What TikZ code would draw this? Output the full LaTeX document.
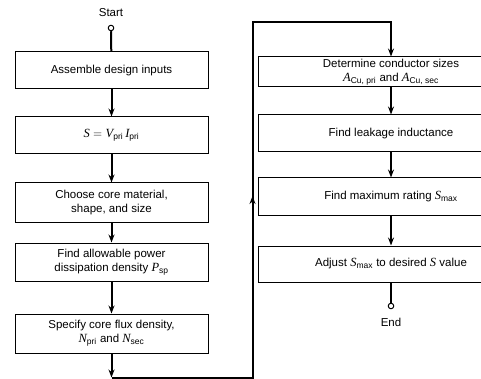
\documentclass[tikz,border=0pt]{standalone}
\usepackage{amsmath}
\usepackage{fontspec}
\setmainfont{Liberation Sans}
\newfontfamily\mifont{Liberation Serif}
\usetikzlibrary{arrows.meta}
\newcommand{\sbt}[1]{\text{\fontsize{8.5}{9}\selectfont #1}}
\newcommand{\mv}[1]{\text{\mifont\itshape\fontsize{12.5}{14}\selectfont #1}}
\begin{document}
\begin{tikzpicture}[x=1pt,y=-1pt,
  font=\fontsize{11.5}{14}\selectfont,
  box/.style={draw,line width=1pt,align=center,inner sep=0pt,minimum width=193pt},
  rbox/.style={draw,line width=1pt,align=center,inner sep=0pt,minimum width=266pt},
  conn/.style={line width=2pt},
  arr/.style={conn,-{Stealth[length=8pt,width=6pt]}},
  term/.style={draw,circle,line width=1pt,inner sep=0pt,minimum size=5.5pt,fill=white}]
\path[use as bounding box] (0,0) rectangle (481,379);
\clip (0,0) rectangle (481,379);
% left column
\node (start) at (111,13) {Start};
\node[term] (c1) at (111,28) {};
\node[box,minimum height=37pt] (b1) at (111.5,70.5) {Assemble design inputs};
\node[box,minimum height=37pt] (b2) at (111.5,135.5) {$\mv{S} = \mv{V}_{\sbt{pri}}\, \mv{I}_{\sbt{pri}}$};
\node[box,minimum height=39pt] (b3) at (111.5,202.5) {Choose core material,\\ shape, and size};
\node[box,minimum height=38pt] (b4) at (111.5,262) {Find allowable power\\ dissipation density $\mv{P}_{\sbt{sp}}$};
\node[box,minimum height=39pt] (b5) at (111.5,333.5) {Specify core flux density,\\ $\mv{N}_{\sbt{pri}}$ and $\mv{N}_{\sbt{sec}}$};
\coordinate (p1) at (111.5,377.5);
\coordinate (p2) at (252.5,377.5);
\coordinate (pm) at (252.5,196);
\coordinate (p3) at (252.5,22);
\coordinate (p4) at (391,22);
% right column
\node[rbox,minimum height=30pt] (r1) at (391,72) {Determine conductor sizes\\ $\mv{A}_{\sbt{Cu, pri}}$ and $\mv{A}_{\sbt{Cu, sec}}$};
\node[rbox,minimum height=37pt] (r2) at (391,133.5) {Find leakage inductance};
\node[rbox,minimum height=37pt] (r3) at (391,196.5) {Find maximum rating $\mv{S}_{\sbt{max}}$};
\node[rbox,minimum height=36pt] (r4) at (391,264) {Adjust $\mv{S}_{\sbt{max}}$ to desired $\mv{S}$ value};
\node[term] (c2) at (391,306) {};
\node (end) at (391,322) {End};
% connectors
\draw[conn] (c1) -- (b1);
\draw[arr] (b1) -- (b2);
\draw[arr] (b2) -- (b3);
\draw[arr] (b3) -- (b4);
\draw[arr] (b4) -- (b5);
\draw[arr] (b5.south) -- (p1);
\draw[conn,line join=miter] (p1) -- (p2) -- (p3) -- (p4) -- ([yshift=-6pt]p4);
\draw[arr] (p2) -- (pm);
\draw[arr] (p4) -- (r1.north -| p4);
\draw[arr] (r1) -- (r2);
\draw[arr] (r2) -- (r3);
\draw[arr] (r3) -- (r4);
\draw[conn] (r4) -- (c2);
\end{tikzpicture}
\end{document}
